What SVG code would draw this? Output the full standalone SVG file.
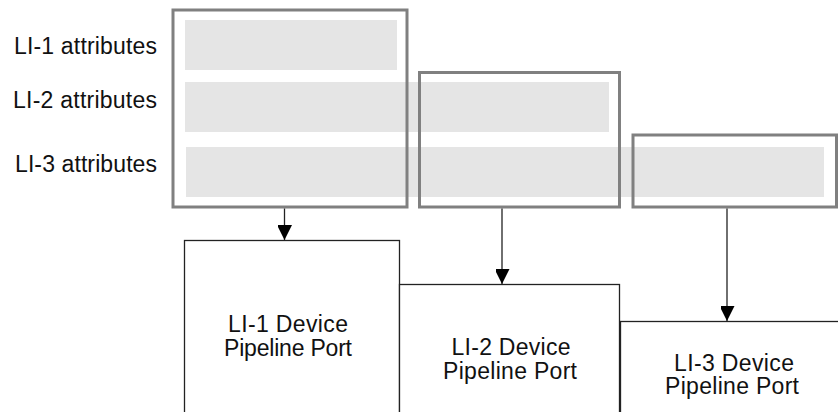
<svg xmlns="http://www.w3.org/2000/svg" width="838" height="412" viewBox="0 0 838 412">
<style>
.bar{fill:#e5e5e5;stroke:none}
.frame{fill:none;stroke:#808080;stroke-width:3}
.port{fill:#fff;stroke:#222;stroke-width:1.3}
.lbl{font-family:"Liberation Sans",Arial,sans-serif;font-size:23px;fill:#111}
.mid{text-anchor:middle}
.conn{stroke:#222;stroke-width:1.3;fill:none}
</style>
<defs>
<marker id="ah" markerUnits="userSpaceOnUse" markerWidth="16" markerHeight="14" refX="15" refY="7.5" orient="auto">
<path d="M0,0 L15,7.5 L0,15 Z" fill="#000"/>
</marker>
</defs>
<rect width="838" height="412" fill="#fff"/>
<g id="attr-labels">
<text class="lbl" x="14" y="54" textLength="143" lengthAdjust="spacing">LI-1 attributes</text>
<text class="lbl" x="13" y="108" textLength="144" lengthAdjust="spacing">LI-2 attributes</text>
<text class="lbl" x="15" y="172" textLength="142" lengthAdjust="spacing">LI-3 attributes</text>
</g>
<g id="bars">
<rect class="bar" x="185" y="20" width="212" height="50"/>
<rect class="bar" x="185" y="82" width="424" height="50"/>
<rect class="bar" x="186" y="147" width="638" height="50"/>
</g>
<g id="li1-attrs"><rect class="frame" x="173" y="10" width="234" height="197"/></g>
<g id="li2-attrs"><rect class="frame" x="419.5" y="72.5" width="200" height="134.5"/></g>
<g id="li3-attrs"><rect class="frame" x="633" y="135" width="203.5" height="72"/></g>
<g id="port1">
<rect class="port" x="184.5" y="240.5" width="215" height="200"/>
<text class="lbl mid" x="288" y="332" textLength="120" lengthAdjust="spacing">LI-1 Device</text>
<text class="lbl mid" x="288" y="356" textLength="128" lengthAdjust="spacing">Pipeline Port</text>
</g>
<g id="port2">
<rect class="port" x="399.5" y="284.5" width="220" height="200"/>
<text class="lbl mid" x="511" y="355" textLength="119" lengthAdjust="spacing">LI-2 Device</text>
<text class="lbl mid" x="510" y="378.5" textLength="134" lengthAdjust="spacing">Pipeline Port</text>
</g>
<g id="port3">
<rect class="port" x="620.5" y="321.5" width="240" height="200"/>
<text class="lbl mid" x="734" y="370.5" textLength="120" lengthAdjust="spacing">LI-3 Device</text>
<text class="lbl mid" x="732" y="394" textLength="134" lengthAdjust="spacing">Pipeline Port</text>
</g>
<g id="connectors">
<line class="conn" x1="284.5" y1="208.5" x2="284.5" y2="240" marker-end="url(#ah)"/>
<line class="conn" x1="502" y1="208.5" x2="502" y2="284" marker-end="url(#ah)"/>
<line class="conn" x1="727" y1="208.5" x2="727" y2="321" marker-end="url(#ah)"/>
</g>
</svg>
